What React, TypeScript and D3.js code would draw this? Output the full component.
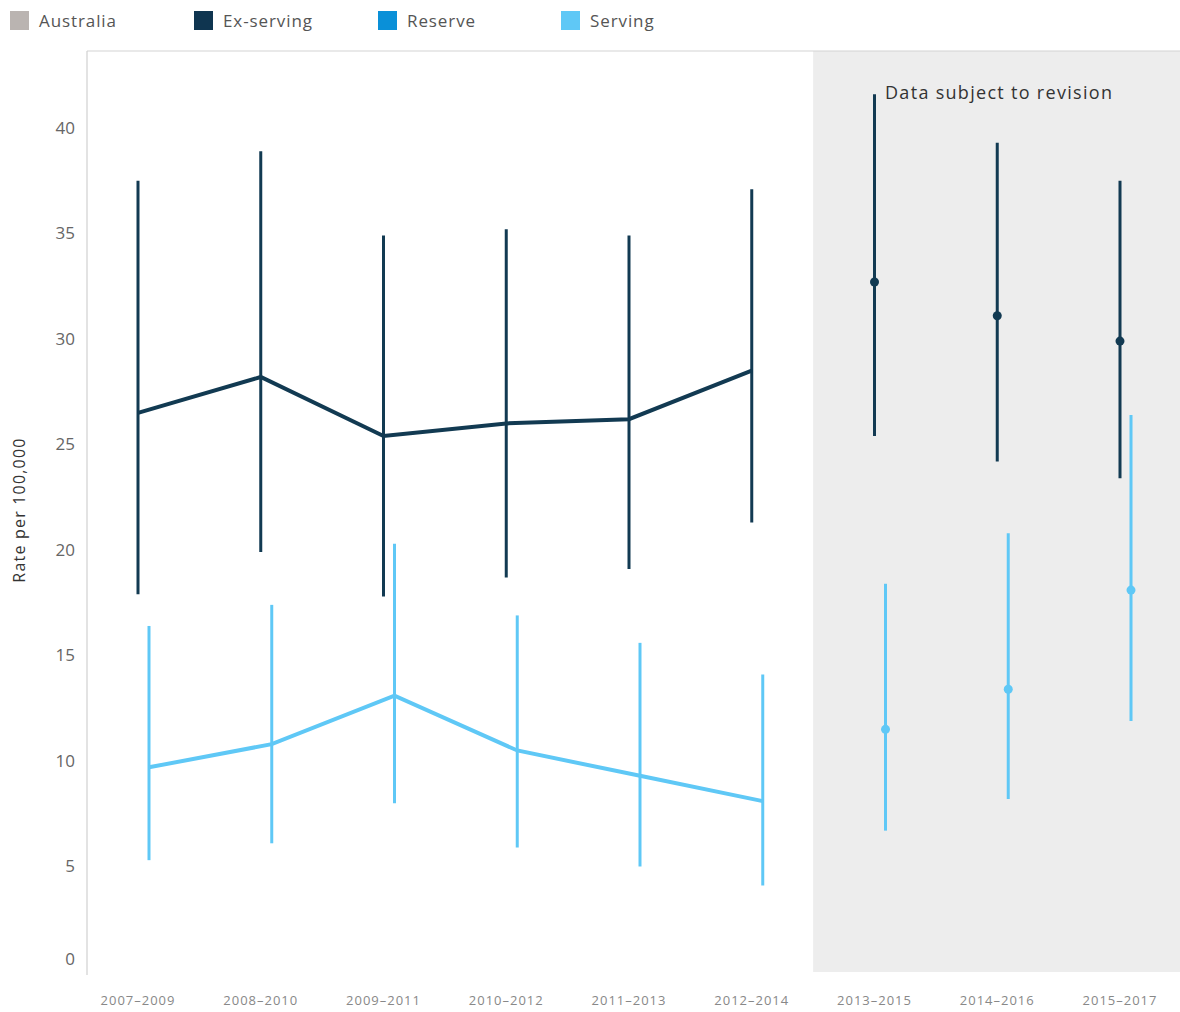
import React from "react";
import * as d3 from "d3";

const categories = ["2007–2009","2008–2010","2009–2011","2010–2012","2011–2013","2012–2014","2013–2015","2014–2016","2015–2017"];
const revisedFrom = "2013–2015";
const exServing = [26.5, 28.2, 25.4, 26.0, 26.2, 28.5, 32.7, 31.1, 29.9];
const exServingUpper = [37.5, 38.9, 34.9, 35.2, 34.9, 37.1, 41.6, 39.3, 37.5];
const exServingLower = [17.9, 19.9, 17.8, 18.7, 19.1, 21.3, 25.4, 24.2, 23.4];
const serving = [9.7, 10.8, 13.1, 10.5, 9.3, 8.1, 11.5, 13.4, 18.1];
const servingUpper = [16.4, 17.4, 20.3, 16.9, 15.6, 14.1, 18.4, 20.8, 26.4];
const servingLower = [5.3, 6.1, 8.0, 5.9, 5.0, 4.1, 6.7, 8.2, 11.9];
const yTicks = [0, 5, 10, 15, 20, 25, 30, 35, 40];
const legendItems = ["Australia", "Ex-serving", "Reserve", "Serving"];
const legendColors = ["#bab4b1", "#0f3550", "#0a90d8", "#5fc8f6"];

export default function App() {
  const W = 1180, H = 1012;
  const left = 87, top = 51, right = 1180, bottom = 972;
  const x = d3.scalePoint<string>().domain(categories).range([138, 1120]);
  const y = d3.scaleLinear().domain([0, 43.65]).range([bottom, top]);
  const step = x.step();
  const shadeX = (x(revisedFrom) as number) - step / 2;
  const splitIdx = categories.indexOf(revisedFrom);

  const exColor = "#123a52";
  const servColor = "#5fc8f6";
  const exOff = 0, servOff = 11;

  const line = d3.line<[number, number]>().x(d => d[0]).y(d => d[1]);
  const exPts: [number, number][] = categories.slice(0, splitIdx).map((c, i) => [(x(c) as number) + exOff, y(exServing[i])]);
  const servPts: [number, number][] = categories.slice(0, splitIdx).map((c, i) => [(x(c) as number) + servOff, y(serving[i])]);
  const legendX = [10, 194, 378, 561];

  return (
    <svg width={W} height={H} style={{ position: "absolute", left: 0, top: 0, background: "#fff" }} fontFamily="'Open Sans', 'Noto Sans', sans-serif">
      {/* legend */}
      {legendItems.map((name, i) => (
        <g key={name}>
          <rect x={legendX[i]} y={11} width={19} height={19} fill={legendColors[i]} />
          <text x={legendX[i] + 29} y={21} dy="0.35em" fontSize={17} letterSpacing={0.9} fill="#555">{name}</text>
        </g>
      ))}
      {/* shaded region */}
      <rect x={shadeX} y={top} width={right - shadeX} height={bottom - top} fill="#ededed" />
      {/* borders */}
      <line x1={left} x2={right} y1={top} y2={top} stroke="#d4d4d4" strokeWidth={1.2} />
      <line x1={left} x2={left} y1={top} y2={bottom + 3} stroke="#d0d0d0" strokeWidth={1.2} />
      {/* y ticks */}
      {yTicks.map(t => (
        <text key={t} x={75} y={t === 0 ? y(t) - 13 : y(t)} dy="0.35em" textAnchor="end" fontSize={17} fill="#666">{t}</text>
      ))}
      <text transform={`translate(25,510) rotate(-90)`} textAnchor="middle" fontSize={16} letterSpacing={1.2} fill="#333">Rate per 100,000</text>
      {/* x labels */}
      {categories.map(c => (
        <text key={c} x={x(c) as number} y={1000} dy="0.35em" textAnchor="middle" fontSize={13} letterSpacing={1} fill="#888">{c}</text>
      ))}
      {/* annotation */}
      <text x={885} y={93} dy="0.35em" fontSize={18} letterSpacing={1.3} fill="#333">Data subject to revision</text>
      {/* error bars */}
      {categories.map((c, i) => (
        <g key={"e" + c}>
          <line x1={(x(c) as number) + exOff} x2={(x(c) as number) + exOff} y1={y(exServingUpper[i])} y2={y(exServingLower[i])} stroke={exColor} strokeWidth={3} />
          <line x1={(x(c) as number) + servOff} x2={(x(c) as number) + servOff} y1={y(servingUpper[i])} y2={y(servingLower[i])} stroke={servColor} strokeWidth={3} />
        </g>
      ))}
      {/* lines */}
      <path d={line(exPts) || ""} fill="none" stroke={exColor} strokeWidth={4} strokeLinejoin="miter" />
      <path d={line(servPts) || ""} fill="none" stroke={servColor} strokeWidth={4} />
      {/* dots for revised data */}
      {categories.slice(splitIdx).map((c, j) => {
        const i = splitIdx + j;
        return (
          <g key={"d" + c}>
            <circle cx={(x(c) as number) + exOff} cy={y(exServing[i])} r={4.5} fill={exColor} />
            <circle cx={(x(c) as number) + servOff} cy={y(serving[i])} r={4.5} fill={servColor} />
          </g>
        );
      })}
    </svg>
  );
}
